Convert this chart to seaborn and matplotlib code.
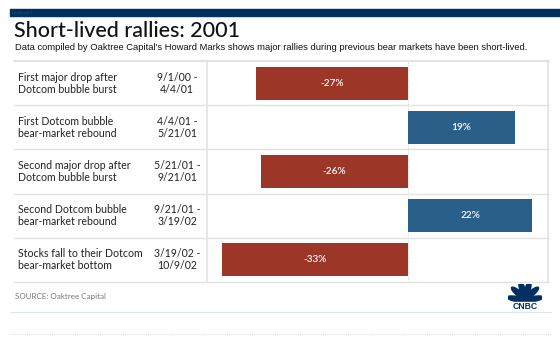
import matplotlib
matplotlib.use("Agg")
import matplotlib.pyplot as plt
import seaborn as sns
import pandas as pd
import numpy as np
from matplotlib.patches import Rectangle, Ellipse
from matplotlib.lines import Line2D

# ---- data ----
events = ["First major drop after\nDotcom bubble burst",
          "First Dotcom bubble\nbear-market rebound",
          "Second major drop after\nDotcom bubble burst",
          "Second Dotcom bubble\nbear-market rebound",
          "Stocks fall to their Dotcom\nbear-market bottom"]
periods = ["9/1/00 -\n4/4/01", "4/4/01 -\n5/21/01", "5/21/01 -\n9/21/01",
           "9/21/01 -\n3/19/02", "3/19/02 -\n10/9/02"]
changes = [-27, 19, -26, 22, -33]
direction = ["down", "up", "down", "up", "down"]

title = "Short-lived rallies: 2001"
subtitle = ("Data compiled by Oaktree Capital's Howard Marks shows major rallies "
            "during previous bear markets have been short-lived.")
source = "SOURCE: Oaktree Capital"

RED = "#9c3626"
BLUE = "#295f89"
GRID = "#e3e3e3"
NAVY = "#00305f"

W, H = 560, 346
sns.set_theme(style="white")
plt.rcParams["font.family"] = ["Lato", "DejaVu Sans"]

fig = plt.figure(figsize=(W / 100, H / 100), dpi=100)
fig.patch.set_facecolor("white")


def fx(px):
    return px / W


def fy(py):
    return 1 - py / H


# top navy bar
fig.patches.append(Rectangle((fx(10), fy(16)), fx(560) - fx(10), fy(9) - fy(16),
                             transform=fig.transFigure, color=NAVY, zorder=0))
fig.text(fx(12), fy(12.5), "Dashboard 1", fontsize=2.5, color="#2a4a75",
         va="center", ha="left", family=["Liberation Sans"])

fig.text(fx(14), fy(31), title, fontsize=15.5, color="#111111", va="center",
         ha="left", fontweight="medium")
fig.text(fx(15), fy(47), subtitle, fontsize=6.75, color="#111111", va="center",
         ha="left", family=["Liberation Sans"])

# table geometry
top, bot = 61, 282
left_x, col_x, right_x = 14, 207, 548
ax = fig.add_axes([fx(col_x), fy(bot), fx(right_x) - fx(col_x), fy(top) - fy(bot)])

df = pd.DataFrame({"event": events, "change": changes, "dir": direction})
sns.barplot(data=df, x="change", y="event", hue="dir",
            palette={"down": RED, "up": BLUE}, dodge=False, width=0.75,
            legend=False, orient="h", ax=ax, saturation=1)
for p in ax.patches:
    p.set_edgecolor("none")

zero_px = 408
scale = 5.64
xmin = -(zero_px - col_x) / scale
xmax = (right_x - zero_px) / scale
ax.set_xlim(xmin, xmax)
ax.set_ylim(4.5, -0.5)
ax.axvline(0, color="#d0d0d0", lw=0.7, ls=(0, (1, 1.5)), zorder=0)
ax.set_xticks([])
ax.set_yticks([])
ax.set_xlabel("")
ax.set_ylabel("")
for s in ax.spines.values():
    s.set_visible(False)

for i, v in enumerate(changes):
    ax.text(v / 2, i, f"{v}%", color="white", fontsize=7.2, fontweight="semibold",
            ha="center", va="center")

# table lines
rows_y = [top + (bot - top) * k / 5 for k in range(6)]
for k, yy in enumerate(rows_y):
    fig.add_artist(Line2D([fx(left_x), fx(right_x + 1)], [fy(yy), fy(yy)],
                          transform=fig.transFigure, color=GRID,
                          lw=1.6 if k == 0 else 1.0))
for xx in (col_x, right_x):
    fig.add_artist(Line2D([fx(xx), fx(xx)], [fy(top), fy(bot)],
                          transform=fig.transFigure, color=GRID, lw=1.2))

for k in range(5):
    cy = (rows_y[k] + rows_y[k + 1]) / 2
    fig.text(fx(18), fy(cy), events[k], fontsize=7.6, color="#222222",
             ha="left", va="center", linespacing=1.1)
    fig.text(fx(177), fy(cy), periods[k], fontsize=7.6, color="#222222",
             ha="center", va="center", linespacing=1.1)

# footer
fig.text(fx(15), fy(297), source, fontsize=5.8, color="#777777", ha="left",
         va="center")
fig.add_artist(Line2D([fx(10), fx(551)], [fy(312), fy(312)],
                      transform=fig.transFigure, color="#dde5ec", lw=0.8))
fig.add_artist(Line2D([fx(10), fx(551)], [fy(334), fy(334)],
                      transform=fig.transFigure, color="#cccccc", lw=0.6,
                      ls=(0, (1, 1.5))))

# simplified CNBC peacock logo
lax = fig.add_axes([fx(508), fy(311), fx(542) - fx(508), fy(284) - fy(311)])
lax.set_xlim(-1, 1)
lax.set_ylim(-0.6, 1.1)
lax.axis("off")
for ang in np.linspace(12, 168, 6):
    r = 0.55
    cx = r * np.cos(np.radians(ang)) * 0.95
    cy = 0.0 + r * np.sin(np.radians(ang)) * 1.35
    lax.add_patch(Ellipse((cx, cy), 1.1, 0.32, angle=ang, color=NAVY))
lax.add_patch(Rectangle((-1, -0.6), 2, 0.58, color="white", zorder=3))
lax.text(0, -0.33, "CNBC", fontsize=6.2, fontweight="heavy", color=NAVY,
         ha="center", va="center", family=["Liberation Sans"], zorder=4)

fig.savefig("out.png", dpi=100, facecolor="white")
